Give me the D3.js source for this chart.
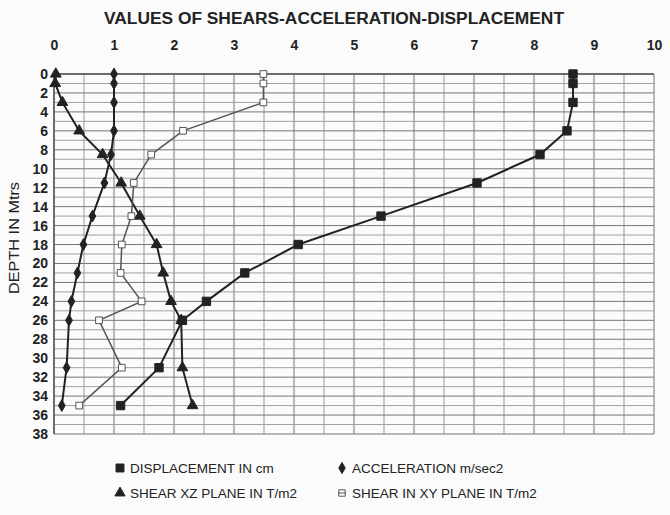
<!DOCTYPE html>
<html>
<head>
<meta charset="utf-8">
<script src="https://cdn.jsdelivr.net/npm/d3@7"></script>
<style>
  body { margin: 0; background: #fbfbfb; }
  svg { display: block; font-family: "Liberation Sans", Arial, sans-serif; }
</style>
</head>
<body>
<svg id="chart" width="670" height="515"></svg>
<script>
// depths (m) at which each series was read
let depths = [0, 1, 3, 6, 8.5, 11.5, 15, 18, 21, 24, 26, 31, 35];
let displacement = [8.65, 8.65, 8.65, 8.55, 8.1, 7.05, 5.45, 4.07, 3.18, 2.54, 2.14, 1.75, 1.11];
let acceleration = [1.0, 1.0, 1.0, 1.0, 0.95, 0.84, 0.64, 0.49, 0.39, 0.29, 0.25, 0.21, 0.13];
let shearXZ = [0.03, 0.02, 0.14, 0.42, 0.81, 1.12, 1.43, 1.71, 1.82, 1.95, 2.12, 2.14, 2.31];
let shearXY = [3.49, 3.49, 3.49, 2.15, 1.62, 1.33, 1.29, 1.13, 1.11, 1.46, 0.75, 1.13, 0.42];
let xTicks = [0, 1, 2, 3, 4, 5, 6, 7, 8, 9, 10];
let yTicks = d3.range(0, 39, 2);

let svg = d3.select('#chart');
let x = d3.scaleLinear().domain([0, 10]).range([54, 654]);
let y = d3.scaleLinear().domain([0, 38]).range([74, 434]);

// grid
let grid = svg.append('g').attr('stroke-width', 1);
grid.selectAll('.vg')
    .data(d3.range(0, 10.01, 0.5))
    .enter().append('line')
    .attr('x1', d => x(d)).attr('x2', d => x(d))
    .attr('y1', y(0)).attr('y2', y(38))
    .attr('stroke', d => d % 1 === 0 ? '#777' : '#999');
grid.selectAll('.hg')
    .data(d3.range(0, 39, 1))
    .enter().append('line')
    .attr('x1', x(0)).attr('x2', x(10))
    .attr('y1', d => y(d)).attr('y2', d => y(d))
    .attr('stroke', d => d % 2 === 0 ? '#777' : '#a0a0a0');
svg.append('line')
    .attr('x1', x(0)).attr('x2', x(10)).attr('y1', y(0)).attr('y2', y(0))
    .attr('stroke', '#555').attr('stroke-width', 1.5);
svg.append('line')
    .attr('x1', x(0)).attr('x2', x(0)).attr('y1', y(0)).attr('y2', y(38))
    .attr('stroke', '#555').attr('stroke-width', 1.5);

// axes
let xAxis = svg.append('g')
    .attr('transform', 'translate(0,53)')
    .call(d3.axisTop(x).tickValues(xTicks).tickSize(0).tickFormat(d3.format('d')));
xAxis.select('.domain').remove();
xAxis.selectAll('text')
    .attr('font-size', 14).attr('font-weight', 'bold').attr('fill', '#222')
    .attr('font-family', '"Liberation Sans", Arial, sans-serif');

let yAxis = svg.append('g')
    .attr('transform', `translate(${x(0) - 3},0)`)
    .call(d3.axisLeft(y).tickValues(yTicks).tickSize(0));
yAxis.select('.domain').remove();
yAxis.selectAll('text')
    .attr('font-size', 14).attr('font-weight', 'bold').attr('fill', '#222')
    .attr('font-family', '"Liberation Sans", Arial, sans-serif');

svg.append('text')
    .attr('x', 334).attr('y', 24)
    .attr('text-anchor', 'middle')
    .attr('font-size', 16).attr('font-weight', 'bold').attr('fill', '#222')
    .attr('textLength', 460).attr('lengthAdjust', 'spacingAndGlyphs')
    .text('VALUES OF SHEARS-ACCELERATION-DISPLACEMENT');

svg.append('text')
    .attr('transform', 'translate(19,238) rotate(-90)')
    .attr('text-anchor', 'middle')
    .attr('font-size', 14).attr('fill', '#222')
    .attr('textLength', 112).attr('lengthAdjust', 'spacingAndGlyphs')
    .text('DEPTH IN Mtrs');

// series
let series = [
    { name: 'DISPLACEMENT IN cm', values: displacement, symbol: d3.symbolSquare, size: 70, fill: '#222', stroke: '#222', width: 2 },
    { name: 'ACCELERATION m/sec2', values: acceleration, symbol: d3.symbolDiamond, size: 40, fill: '#222', stroke: '#222', width: 2 },
    { name: 'SHEAR XZ PLANE IN T/m2', values: shearXZ, symbol: d3.symbolTriangle, size: 50, fill: '#222', stroke: '#222', width: 2 },
    { name: 'SHEAR IN XY PLANE IN T/m2', values: shearXY, symbol: d3.symbolSquare, size: 45, fill: '#fff', stroke: '#555', width: 1.5 }
];

let line = d3.line().x(d => x(d[1])).y(d => y(d[0]));

series.forEach(s => {
    let pts = depths.map((d, i) => [d, s.values[i]]);
    svg.append('path')
        .datum(pts)
        .attr('d', line)
        .attr('fill', 'none')
        .attr('stroke', s.stroke)
        .attr('stroke-width', s.width);
    svg.selectAll(null)
        .data(pts)
        .enter().append('path')
        .attr('transform', d => `translate(${x(d[1])},${y(d[0])})`)
        .attr('d', d3.symbol().type(s.symbol).size(s.size))
        .attr('fill', s.fill)
        .attr('stroke', s.stroke)
        .attr('stroke-width', 1);
});

// legend
let legendPos = [[120, 468], [342, 468], [120, 493], [342, 493]];
series.forEach((s, i) => {
    let g = svg.append('g').attr('transform', `translate(${legendPos[i][0]},${legendPos[i][1]})`);
    g.append('path')
        .attr('d', d3.symbol().type(s.symbol).size(s.size * 0.9))
        .attr('fill', s.fill).attr('stroke', s.stroke).attr('stroke-width', 1);
    if (i === 3) {
        g.append('line').attr('x1', -4).attr('x2', 4).attr('y1', 0).attr('y2', 0)
            .attr('stroke', s.stroke);
    }
    g.append('text')
        .attr('x', 10).attr('y', 5)
        .attr('font-size', 13.5).attr('fill', '#222')
        .text(s.name);
});
</script>
</body>
</html>
